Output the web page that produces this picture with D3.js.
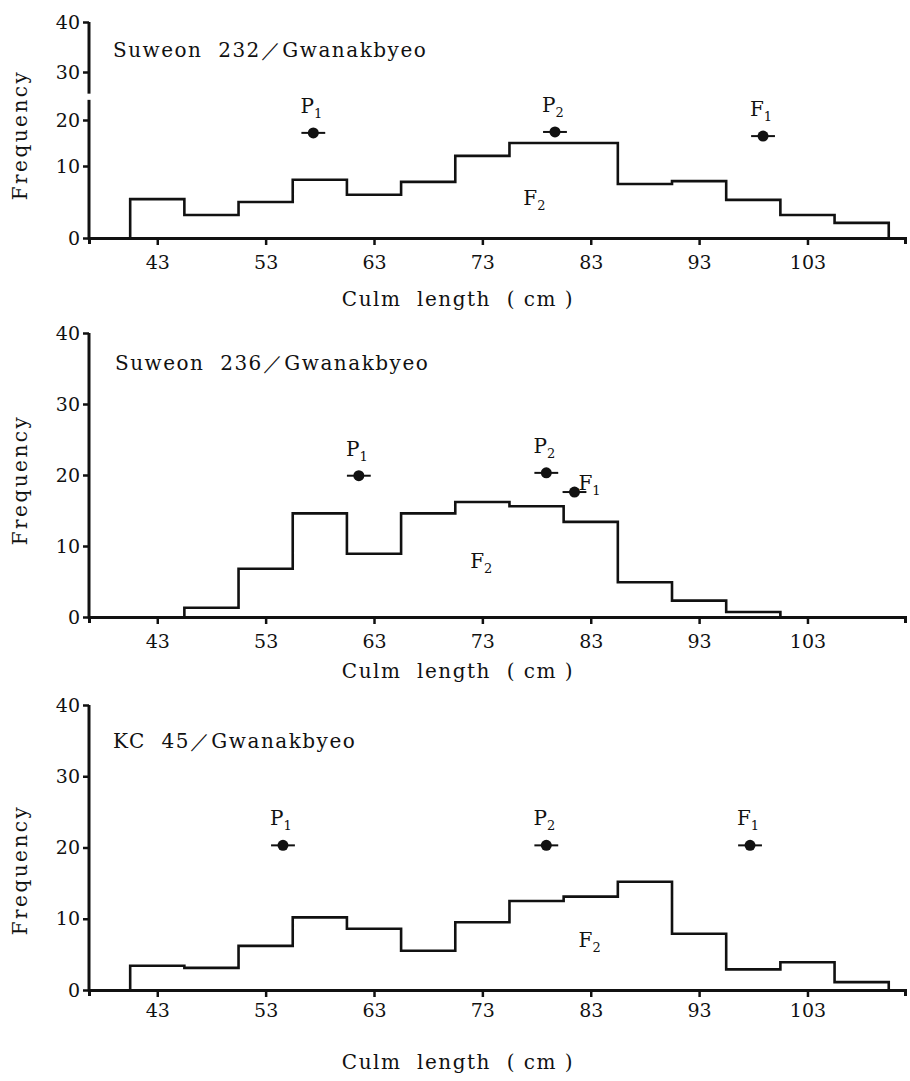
<!DOCTYPE html>
<html>
<head>
<meta charset="utf-8">
<script src="https://cdn.jsdelivr.net/npm/d3@7"></script>
<style>
  body { margin: 0; background: #fff; }
</style>
</head>
<body>
<svg id="chart" width="910" height="1081"></svg>
<script>
// culm length classes (mid points, cm), 5 cm wide
const classMids = [43, 48, 53, 58, 63, 68, 73, 78, 83, 88, 93, 98, 103, 108];
const classWidth = 5;
const xTicks = [43, 53, 63, 73, 83, 93, 103];
const yTicks = [0, 10, 20, 30, 40];

const crosses = ["Suweon  232／Gwanakbyeo", "Suweon  236／Gwanakbyeo", "KC  45／Gwanakbyeo"];

// F2 frequencies (null = empty class)
const freq232 = [5.4, 3.2, 5.0, 8.1, 6.0, 7.8, 12.2, 15.0, 15.0, 7.5, 7.9, 5.3, 3.2, 2.1];
const freq236 = [null, 1.3, 6.8, 14.6, 8.9, 14.6, 16.2, 15.6, 13.4, 4.9, 2.3, 0.7, null, null];
const freqKC45 = [3.4, 3.1, 6.2, 10.2, 8.6, 5.5, 9.5, 12.5, 13.1, 15.2, 7.9, 2.9, 3.9, 1.1];

// parents and F1 : mean culm length and the height they are drawn at
const parentNames = ["P1", "P2", "F1"];
const mean232 = [57.4, 79.7, 98.9];
const level232 = [17.2, 17.4, 16.5];
const mean236 = [61.6, 78.9, 81.5];
const level236 = [19.9, 20.3, 17.6];
const meanKC45 = [54.6, 78.9, 97.7];
const levelKC45 = [20.3, 20.3, 20.3];
const barHalf = 1.1;

// where the F2 label sits (cm, frequency)
const f2Pos = [[77.8, 4.6], [72.9, 6.9], [82.9, 6.0]];

// layout of the three panels
const panels = [
  { freq: freq232, mean: mean232, level: level232, yStops: [238, 166, 120, 72, 22], yBreak: [24.2, 25.8],
    titleXY: [113, 57], labelY: 306, freqY: 135, tickPad: 11, side: ["top", "top", "top"] },
  { freq: freq236, mean: mean236, level: level236, yStops: [617, 333], yBreak: null,
    titleXY: [115, 370], labelY: 678, freqY: 480, tickPad: 11, side: ["top", "top", "right"] },
  { freq: freqKC45, mean: meanKC45, level: levelKC45, yStops: [990, 705], yBreak: null,
    titleXY: [113, 748], labelY: 1069, freqY: 870, tickPad: 7, side: ["top", "top", "top"] }
];

const serif = "'DejaVu Serif', 'Liberation Serif', serif";

const svg = d3.select("#chart");

const x = d3.scaleLinear()
  .domain([36.7, 112])
  .range([89, 905]);

function subLabel(g, name, px, py, anchor) {
  const t = g.append("text")
    .attr("x", px).attr("y", py)
    .attr("text-anchor", anchor)
    .style("font-family", serif)
    .style("font-size", "20px")
    .attr("fill", "#111");
  t.append("tspan").text(name[0]);
  t.append("tspan").attr("dy", 5).style("font-size", "13px").text(name[1]);
}

panels.forEach((p, i) => {
  const g = svg.append("g");

  const y = d3.scaleLinear()
    .domain(p.yStops.length === 2 ? [0, 40] : yTicks)
    .range(p.yStops);
  const base = y(0);

  // x axis
  const xAxis = g.append("g")
    .attr("transform", `translate(0,${base})`)
    .call(d3.axisBottom(x).tickValues(xTicks).tickSize(7).tickSizeOuter(6).tickPadding(p.tickPad));
  xAxis.select(".domain").attr("stroke", "#111").attr("stroke-width", 3);
  xAxis.selectAll(".tick line").attr("stroke", "#111").attr("stroke-width", 2.5);
  xAxis.selectAll(".tick text")
    .style("font-family", serif).style("font-size", "19px").attr("fill", "#111");

  // y axis (own domain line so it can be broken)
  const yAxis = g.append("g")
    .attr("transform", `translate(${x(36.7)},0)`)
    .call(d3.axisLeft(y).tickValues(yTicks).tickSize(6).tickSizeOuter(0).tickPadding(3));
  yAxis.select(".domain").remove();
  yAxis.selectAll(".tick line").attr("stroke", "#111").attr("stroke-width", 2.5);
  yAxis.selectAll(".tick text")
    .style("font-family", serif).style("font-size", "19px").attr("fill", "#111");

  const segs = p.yBreak ? [[0, p.yBreak[0]], [p.yBreak[1], 40]] : [[0, 40]];
  segs.forEach(s => {
    g.append("line")
      .attr("x1", x(36.7)).attr("x2", x(36.7))
      .attr("y1", y(s[0]) + 1.5).attr("y2", y(s[1]))
      .attr("stroke", "#111").attr("stroke-width", 3);
  });

  // histogram outline
  const bins = classMids.map((m, k) => ({ lo: m - classWidth / 2, hi: m + classWidth / 2, v: p.freq[k] }))
    .filter(b => b.v !== null);
  const pts = [[bins[0].lo, null]];
  bins.forEach(b => { pts.push([b.lo, b.v]); pts.push([b.hi, b.v]); });
  pts.push([bins[bins.length - 1].hi, null]);

  const line = d3.line()
    .x(d => x(d[0]))
    .y(d => d[1] === null ? base : y(d[1]));

  g.append("path")
    .attr("d", line(pts))
    .attr("fill", "none")
    .attr("stroke", "#111")
    .attr("stroke-width", 2.6)
    .attr("stroke-linejoin", "miter");

  // parents and F1
  parentNames.forEach((name, k) => {
    const cx = x(p.mean[k]);
    const cy = y(p.level[k]);
    g.append("line")
      .attr("x1", x(p.mean[k] - barHalf)).attr("x2", x(p.mean[k] + barHalf))
      .attr("y1", cy).attr("y2", cy)
      .attr("stroke", "#111").attr("stroke-width", 2);
    g.append("circle")
      .attr("cx", cx).attr("cy", cy).attr("r", 5.5)
      .attr("fill", "#111");
    if (p.side[k] === "right") {
      subLabel(g, name, cx + 4, cy - 2, "start");
    } else {
      subLabel(g, name, cx - 2, cy - 20, "middle");
    }
  });

  subLabel(g, "F2", x(f2Pos[i][0]), y(f2Pos[i][1]), "middle");

  // texts
  g.append("text")
    .attr("x", p.titleXY[0]).attr("y", p.titleXY[1])
    .attr("xml:space", "preserve")
    .style("font-family", serif)
    .style("font-size", "20px")
    .style("letter-spacing", "1.5px")
    .attr("fill", "#111")
    .text(crosses[i]);

  g.append("text")
    .attr("x", 458).attr("y", p.labelY)
    .attr("text-anchor", "middle")
    .attr("xml:space", "preserve")
    .style("font-family", serif)
    .style("font-size", "20px")
    .style("letter-spacing", "1.5px")
    .attr("fill", "#111")
    .text("Culm  length  ( cm )");

  g.append("text")
    .attr("transform", `translate(27,${p.freqY}) rotate(-90)`)
    .attr("text-anchor", "middle")
    .style("font-family", serif)
    .style("font-size", "20px")
    .style("letter-spacing", "2.5px")
    .attr("fill", "#111")
    .text("Frequency");
});
</script>
</body>
</html>
